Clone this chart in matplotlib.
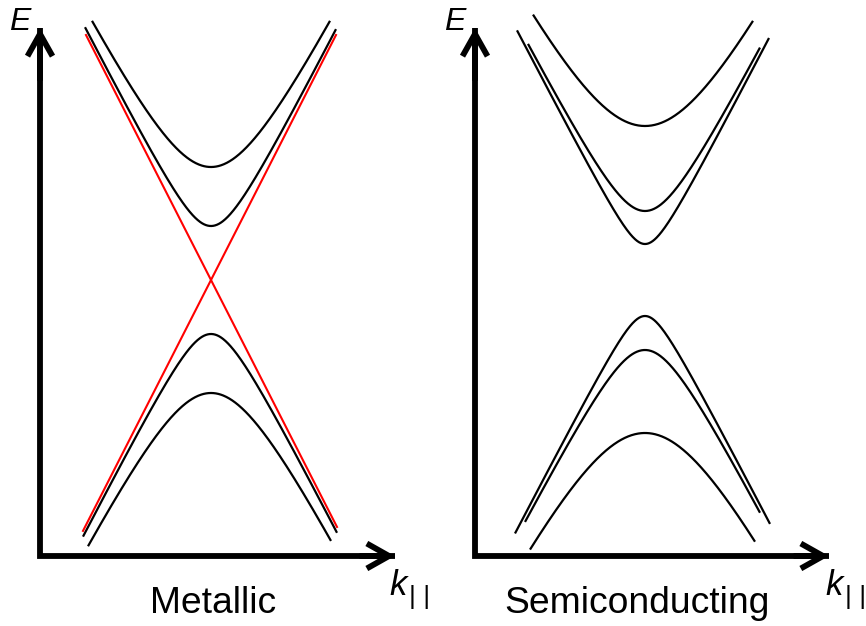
import numpy as np
import matplotlib
matplotlib.use("Agg")
import matplotlib.pyplot as plt

W, H = 866, 626

# Band-structure parameters (energy in arbitrary units, k in arbitrary units)
metal_velocity = 1.96
metal_cond_gaps = [1.13, 0.54]
metal_cond_k = [(-1.19, 1.19), (-1.26, 1.25)]
metal_val_gaps = [0.54, 1.13]
metal_val_k = [(-1.28, 1.26), (-1.23, 1.20)]
dirac_slopes = [-1.0, 1.0]
dirac_k = [(-1.25, 1.26), (-1.28, 1.25)]

semi_velocity = 1.93
semi_cond_gaps = [1.54, 0.69, 0.36]
semi_cond_k = [(-1.12, 1.08), (-1.17, 1.15), (-1.28, 1.24)]
semi_val_gaps = [0.36, 0.70, 1.53]
semi_val_k = [(-1.30, 1.25), (-1.20, 1.15), (-1.15, 1.10)]

panel_titles = ["Metallic", "Semiconducting"]

fig = plt.figure(figsize=(W / 100, H / 100), dpi=100)


def px_box(x0, x1, y_top, y_bot):
    return [x0 / W, 1 - y_bot / H, (x1 - x0) / W, (y_bot - y_top) / H]


def band(ax, gap, krange, v, sign):
    k = np.linspace(krange[0], krange[1], 400)
    e = sign * np.sqrt(gap ** 2 + (v * k) ** 2)
    ax.plot(k, e, color="black", lw=1.6, clip_on=False, solid_capstyle="butt")


def frame(ax):
    ax.set_axis_off()
    ax.plot([1, 0, 0], [0, 0, 1], transform=ax.transAxes, color="black",
            lw=4.2, solid_joinstyle="miter", solid_capstyle="butt", clip_on=False)
    for tip, tail in [((0, 1), (0, 0.9)), ((1, 0), (0.9, 0))]:
        ax.annotate("", xy=tip, xytext=tail, xycoords="axes fraction",
                    textcoords="axes fraction", annotation_clip=False,
                    arrowprops=dict(arrowstyle="->,head_length=0.8,head_width=0.45",
                                    lw=4.2, color="black", mutation_scale=20,
                                    shrinkA=0, shrinkB=0, joinstyle="miter",
                                    capstyle="butt"))


# Metallic panel
axL = fig.add_axes(px_box(40, 395, 28, 556))
axL.set_xlim(-1.71, 1.84)
axL.set_ylim(-2.76, 2.52)
frame(axL)
for g, kr in zip(metal_cond_gaps, metal_cond_k):
    band(axL, g, kr, metal_velocity, 1)
for g, kr in zip(metal_val_gaps, metal_val_k):
    band(axL, g, kr, metal_velocity, -1)
for s, kr in zip(dirac_slopes, dirac_k):
    k = np.array(kr)
    axL.plot(k, s * metal_velocity * k, color="#ff0000", lw=1.5, clip_on=False)

# Semiconducting panel
axR = fig.add_axes(px_box(475, 829, 28, 556))
axR.set_xlim(-1.70, 1.84)
axR.set_ylim(-2.76, 2.52)
frame(axR)
for g, kr in zip(semi_cond_gaps, semi_cond_k):
    band(axR, g, kr, semi_velocity, 1)
for g, kr in zip(semi_val_gaps, semi_val_k):
    band(axR, g, kr, semi_velocity, -1)


def ftext(x, y, s, **kw):
    fig.text(x / W, 1 - y / H, s, **kw)


lab = dict(family="Liberation Sans")
for x in (20, 455):
    ftext(x, 22, "E", ha="center", va="center", fontsize=23, style="italic", **lab)
for xk, xb in ((389, 409), (825, 845)):
    ftext(xk, 595, "k", ha="left", va="baseline", fontsize=25, style="italic", **lab)
    ftext(xb, 597, "| |", ha="left", va="center", fontsize=19, **lab)

ftext(213.5, 613, panel_titles[0], ha="center", va="baseline", fontsize=26.8, **lab)
ftext(637.5, 613, panel_titles[1], ha="center", va="baseline", fontsize=26.8, **lab)

fig.savefig("out.png", dpi=100)
